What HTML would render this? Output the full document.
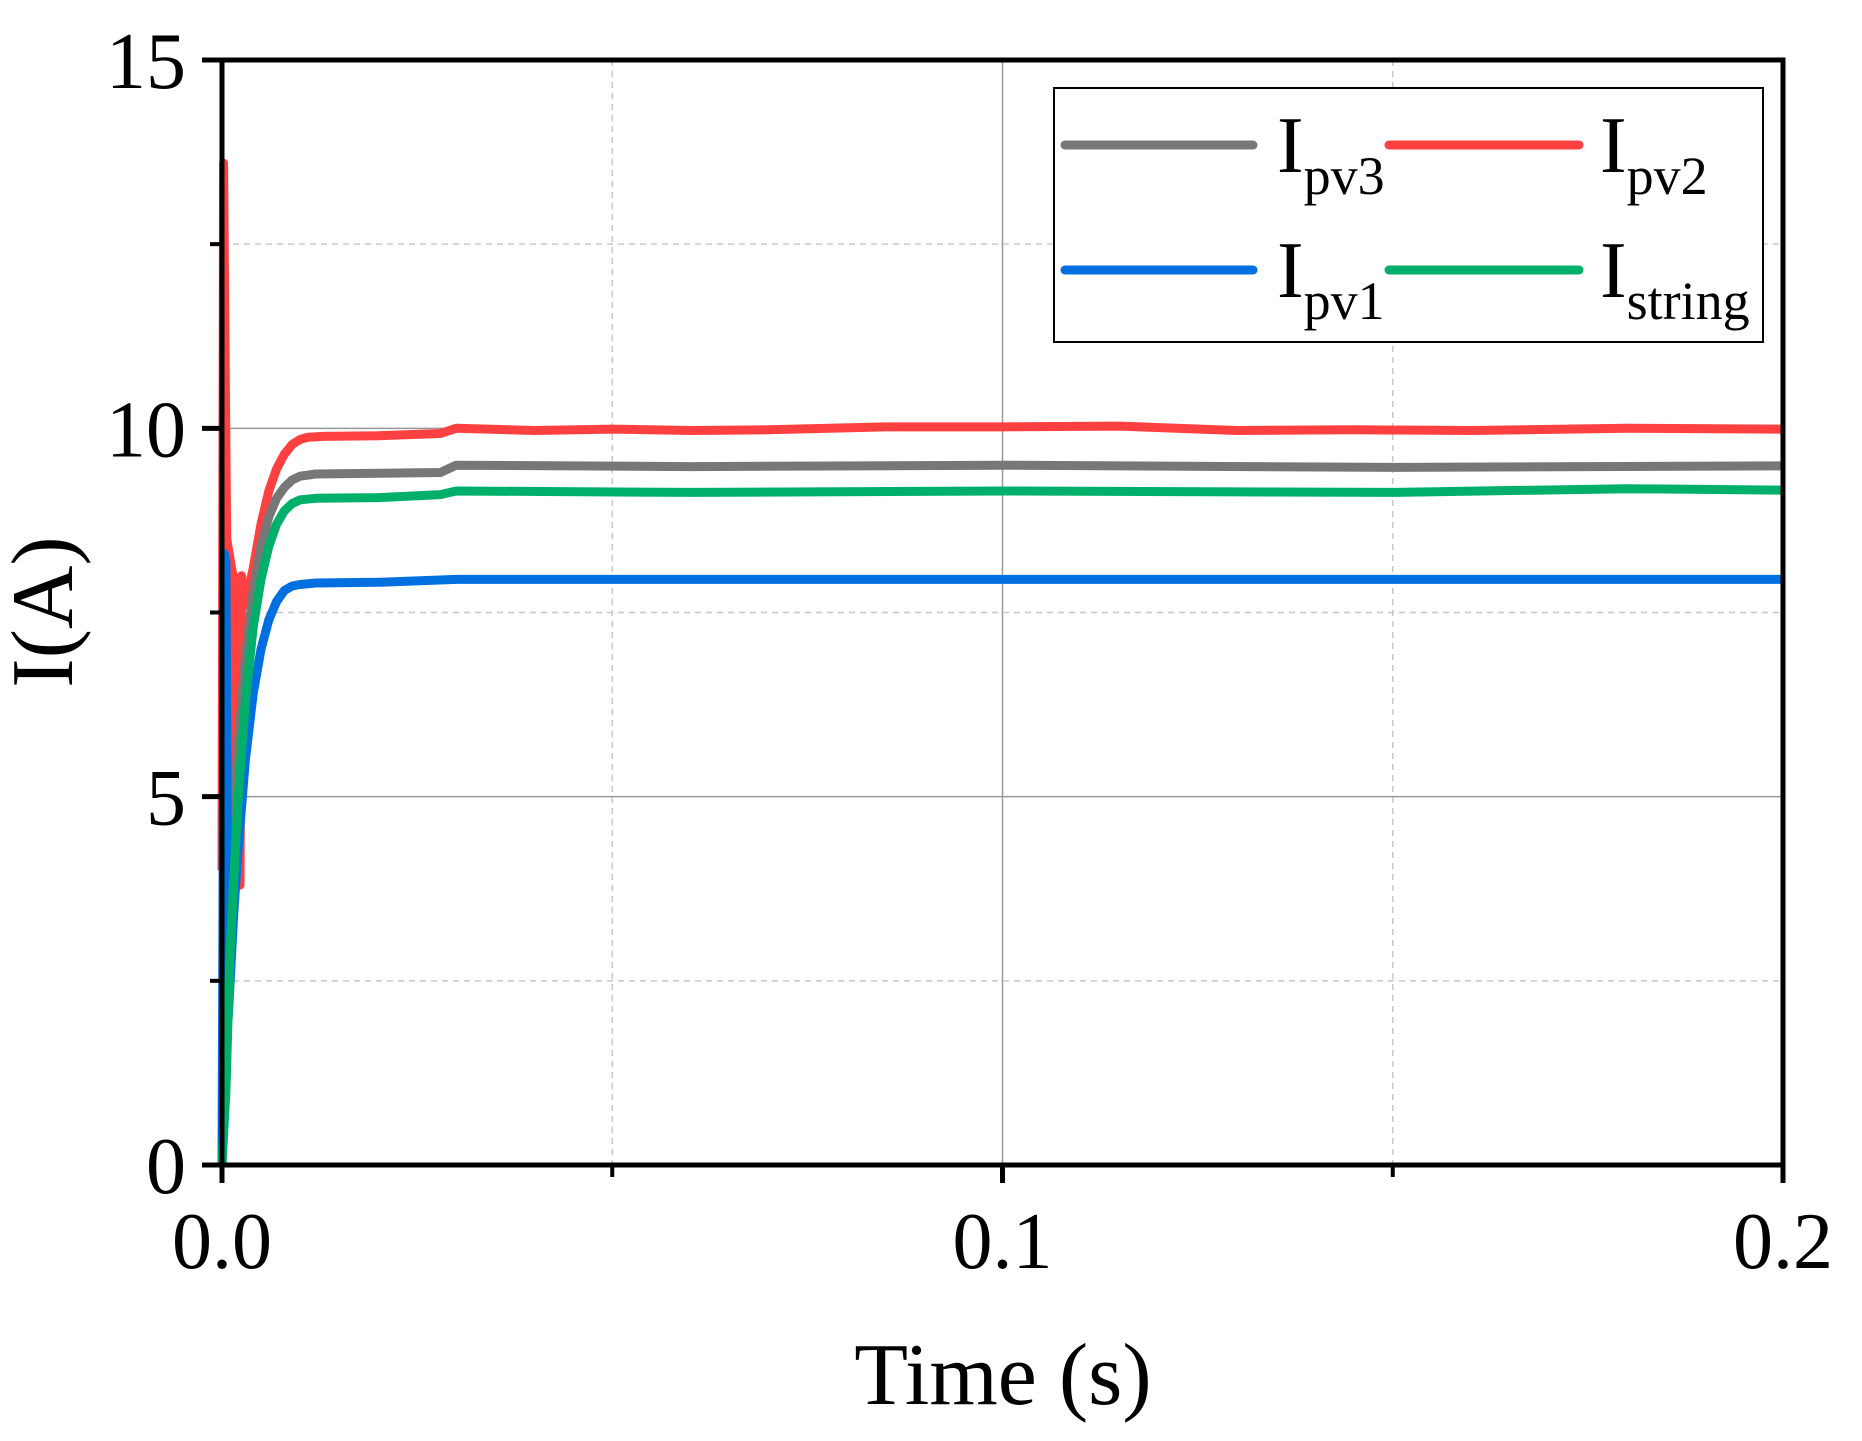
<!DOCTYPE html>
<html><head><meta charset="utf-8"><style>
html,body{margin:0;padding:0;background:#fff}
svg{display:block;font-family:"Liberation Serif",serif}
</style></head><body>
<svg id="chart" width="1862" height="1441" viewBox="0 0 1862 1441">
<g id="grid"></g>
<g id="series"></g>
<g id="axes"></g>
<text x="1003" y="1404" font-size="88" text-anchor="middle">Time (s)</text>
<text transform="translate(72,612) rotate(-90)" font-size="88" text-anchor="middle">I(A)</text>
<g>
<rect x="1054" y="88" width="709" height="254" fill="#fff" stroke="#000" stroke-width="2"/>
<g>
<line x1="1065" y1="145" x2="1253" y2="145" stroke="#777" stroke-width="9" stroke-linecap="round"/>
<text x="1277" y="172" font-size="80">I<tspan font-size="54" dy="22">pv3</tspan></text></g>
<g>
<line x1="1389" y1="145" x2="1579" y2="145" stroke="#ff4040" stroke-width="9" stroke-linecap="round"/>
<text x="1600" y="172" font-size="80">I<tspan font-size="54" dy="22">pv2</tspan></text></g>
<g>
<line x1="1065" y1="270" x2="1253" y2="270" stroke="#0070e0" stroke-width="9" stroke-linecap="round"/>
<text x="1277" y="297" font-size="80">I<tspan font-size="54" dy="22">pv1</tspan></text></g>
<g>
<line x1="1389" y1="270" x2="1579" y2="270" stroke="#00b06a" stroke-width="9" stroke-linecap="round"/>
<text x="1600" y="297" font-size="80">I<tspan font-size="54" dy="22">string</tspan></text></g>
</g>
</svg>
<script>
const xTicks=[0,0.1,0.2];
const xTickLabels=["0.0","0.1","0.2"];
const xMinor=[0.05,0.15];
const yTicks=[0,5,10,15];
const yTickLabels=["0","5","10","15"];
const yMinor=[2.5,7.5,12.5];
const tRed=[0,0.0002,0.0004,0.0006,0.0014,0.0015,0.0023,0.0025,0.003,0.004,0.005,0.006,0.007,0.008,0.009,0.010,0.011,0.013,0.02,0.028,0.03,0.04,0.05,0.06,0.07,0.085,0.1,0.115,0.13,0.145,0.16,0.18,0.2];
const vRed=[4,13.6,11,8.5,8,3.8,3.8,8,7.6,8.1,8.7,9.15,9.45,9.65,9.78,9.85,9.88,9.89,9.9,9.93,10.0,9.97,9.99,9.97,9.98,10.02,10.02,10.03,9.97,9.98,9.97,10.0,9.99];
const tGray=[0,0.001,0.002,0.003,0.004,0.005,0.006,0.007,0.008,0.009,0.01,0.012,0.02,0.028,0.03,0.06,0.1,0.15,0.2];
const vGray=[0,3.5,5.6,6.9,7.8,8.4,8.8,9.05,9.2,9.3,9.35,9.38,9.39,9.4,9.5,9.48,9.5,9.47,9.49];
const tGreen=[0,0.0005,0.001,0.002,0.003,0.004,0.005,0.006,0.007,0.008,0.009,0.01,0.012,0.02,0.028,0.03,0.06,0.1,0.15,0.18,0.2];
const vGreen=[0,1,2.8,4.9,6.3,7.3,7.95,8.4,8.7,8.88,8.98,9.03,9.05,9.06,9.1,9.15,9.13,9.15,9.13,9.18,9.16];
const tBlue=[0,0.0003,0.0005,0.0008,0.0015,0.002,0.003,0.004,0.005,0.006,0.007,0.008,0.009,0.01,0.012,0.02,0.03,0.1,0.2];
const vBlue=[0,8.3,8.2,2,3.4,4.2,5.5,6.4,7.0,7.4,7.65,7.8,7.86,7.88,7.9,7.91,7.95,7.95,7.95];
const X0=222,X1=1783,Y0=1165,Y1=60;
const sx=v=>X0+(v-0)/(0.2-0)*(X1-X0);
const sy=v=>Y0-(v-0)/(15-0)*(Y0-Y1);
const NS="http://www.w3.org/2000/svg";
function mk(tag,attrs,parent){const e=document.createElementNS(NS,tag);for(const k in attrs)e.setAttribute(k,attrs[k]);parent.appendChild(e);return e;}
const grid=document.getElementById('grid'),axes=document.getElementById('axes'),ser=document.getElementById('series');
xTicks.forEach((v,i)=>{
 if(v>0&&v<0.2){const l=mk('line',{x1:sx(v),x2:sx(v),y1:Y1,y2:Y0,stroke:'#999','stroke-width':1.5},grid);
 
 }
 const t=mk('line',{x1:sx(v),x2:sx(v),y1:Y0,y2:Y0+18,stroke:'#000','stroke-width':5},axes);
 
 
 const tx=mk('text',{x:sx(v),y:1268,'font-size':80,'text-anchor':'middle'},axes);tx.textContent=xTickLabels[i];
 
 
});
xMinor.forEach(v=>{
 const l=mk('line',{x1:sx(v),x2:sx(v),y1:Y1,y2:Y0,stroke:'#c8c8c8','stroke-width':1.5,'stroke-dasharray':'6,5'},grid);
 
 
 const t=mk('line',{x1:sx(v),x2:sx(v),y1:Y0,y2:Y0+12,stroke:'#000','stroke-width':4},axes);
 
 
});
yTicks.forEach((v,i)=>{
 if(v>0&&v<15){const l=mk('line',{x1:X0,x2:X1,y1:sy(v),y2:sy(v),stroke:'#999','stroke-width':1.5},grid);
 
 }
 const t=mk('line',{x1:X0-20,x2:X0,y1:sy(v),y2:sy(v),stroke:'#000','stroke-width':5},axes);
 
 
 const tx=mk('text',{x:186,y:sy(v)+28,'font-size':80,'text-anchor':'end'},axes);tx.textContent=yTickLabels[i];
 
 
});
yMinor.forEach(v=>{
 const l=mk('line',{x1:X0,x2:X1,y1:sy(v),y2:sy(v),stroke:'#c8c8c8','stroke-width':1.5,'stroke-dasharray':'6,5'},grid);
 
 
 const t=mk('line',{x1:X0-12,x2:X0,y1:sy(v),y2:sy(v),stroke:'#000','stroke-width':4},axes);
 
 
});
const fr=mk('rect',{x:X0,y:Y1,width:X1-X0,height:Y0-Y1,fill:'none',stroke:'#000','stroke-width':5},axes);


function line(ts,vs,color,name){
 const d=ts.map((t,i)=>(i?'L':'M')+sx(t).toFixed(1)+','+sy(vs[i]).toFixed(1)).join('');
 const p=mk('path',{d:d,fill:'none',stroke:color,'stroke-width':9,'stroke-linejoin':'round'},ser);
 
 
}
line(tRed,vRed,'#ff4040','line-ipv2');
line(tGray,vGray,'#777777','line-ipv3');
line(tBlue,vBlue,'#0070e0','line-ipv1');
line(tGreen,vGreen,'#00b06a','line-istring');
</script>
</body></html>
